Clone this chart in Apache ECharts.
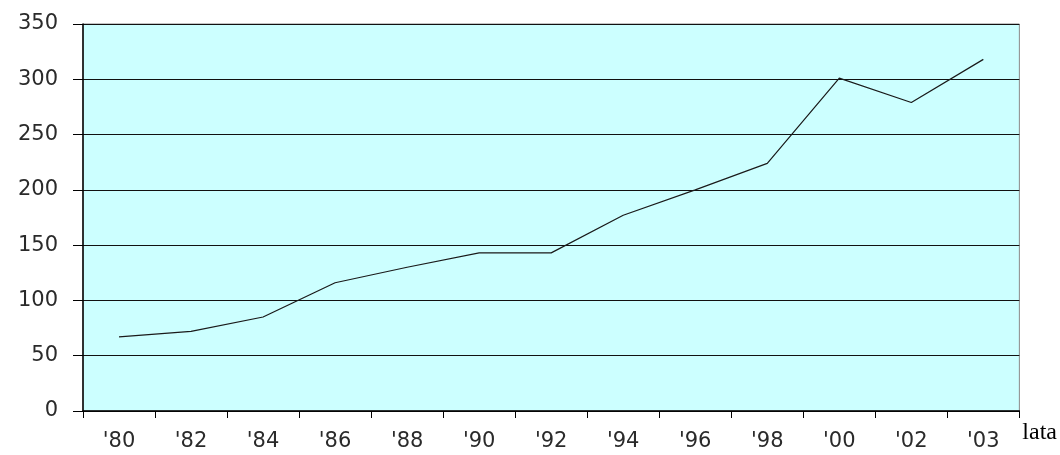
<!DOCTYPE html>
<html>
<head>
<meta charset="utf-8">
<script src="https://cdn.jsdelivr.net/npm/echarts@6/dist/echarts.min.js"></script>
<style>
  html, body { margin: 0; padding: 0; background: #ffffff; }
  #chart { width: 1060px; height: 455px; }
</style>
</head>
<body>
<div id="chart"></div>
<script>
// Year labels along the bottom axis
const years = ["'80", "'82", "'84", "'86", "'88", "'90", "'92", "'94", "'96", "'98", "'00", "'02", "'03"];
// Value for each year
const values = [67, 72, 85, 116, 130, 143, 143, 177, 200, 224, 301, 279, 318];
// Value axis range and step
const yMin = 0;
const yMax = 350;
const yStep = 50;

const chart = echarts.init(document.getElementById('chart'), null, { renderer: 'canvas' });

const labelFont = {
  fontFamily: 'DejaVu Sans',
  fontSize: 21,
  color: '#2a2a2a'
};

chart.setOption({
  animation: false,
  backgroundColor: '#ffffff',
  grid: {
    left: 83,
    right: 39,
    top: 24,
    bottom: 44,
    show: true,
    backgroundColor: '#ccffff',
    borderColor: '#888888',
    borderWidth: 1
  },
  xAxis: {
    type: 'category',
    data: years,
    boundaryGap: true,
    name: 'lata',
    nameLocation: 'end',
    nameGap: 3,
    nameTextStyle: {
      fontFamily: 'Liberation Serif',
      fontSize: 24,
      color: '#000000',
      verticalAlign: 'top',
      padding: [10, 0, 0, 0]
    },
    axisLine: { show: true, lineStyle: { color: '#000000', width: 1.5 } },
    axisTick: { show: true, alignWithLabel: false, interval: 0, length: 7, lineStyle: { color: '#000000' } },
    axisLabel: Object.assign({ interval: 0, margin: 20 }, labelFont),
    splitLine: { show: false }
  },
  yAxis: {
    type: 'value',
    min: yMin,
    max: yMax,
    interval: yStep,
    axisLine: { show: true, lineStyle: { color: '#000000', width: 1.5 } },
    axisTick: { show: true, length: 10, lineStyle: { color: '#000000' } },
    axisLabel: Object.assign({ margin: 25 }, labelFont),
    splitLine: { show: true, lineStyle: { color: '#111111', width: 1.2 } }
  },
  series: [{
    type: 'line',
    data: values,
    symbol: 'none',
    lineStyle: { color: '#1a1a1a', width: 1.2 },
    z: 3
  }]
});
</script>
</body>
</html>
